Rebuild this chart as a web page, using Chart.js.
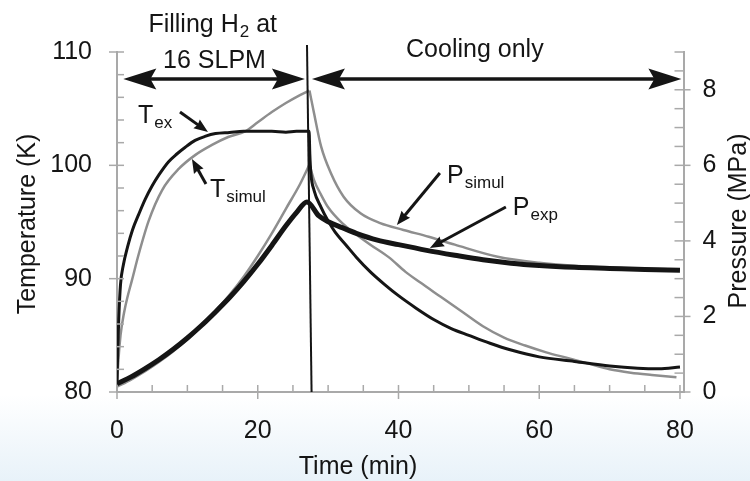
<!DOCTYPE html>
<html>
<head>
<meta charset="utf-8">
<script src="https://cdn.jsdelivr.net/npm/chart.js@4.4.1/dist/chart.umd.min.js"></script>
<style>
  html, body { margin: 0; padding: 0; background: #fff; }
  #wrap {
    width: 750px; height: 481px;
    background: linear-gradient(to bottom, #ffffff 0%, #ffffff 82%, #e8f2f9 100%);
  }
</style>
</head>
<body>
<div id="wrap"><canvas id="chart" width="750" height="481"></canvas></div>
<script>
// measured temperature (K) vs time (min)
const tExMin = [0, 0.1, 0.25, 0.5, 0.9, 1.5, 2.2, 3.1, 4, 5, 6, 7.3, 8.5, 9.7, 11.1, 12.5, 14, 16, 18, 20, 22, 24, 25.5, 27.3,
  27.4, 27.55, 28, 29, 30, 31, 32.5, 34, 36, 38, 40, 42.5, 45, 47.5, 50, 53, 56, 60, 65, 70, 74, 77, 80];
const tExK = [80.8, 83.5, 86.5, 89.5, 91.2, 92.8, 94.3, 95.7, 97.0, 98.2, 99.2, 100.3, 101.0, 101.6, 102.2, 102.55, 102.8, 102.9, 103.0, 103.0, 103.0, 102.92, 103.0, 103.0,
  101.0, 99.3, 97.8, 96.3, 95.1, 94.1, 93.0, 91.9, 90.6, 89.5, 88.5, 87.4, 86.4, 85.6, 85.0, 84.3, 83.7, 83.1, 82.7, 82.3, 82.1, 82.05, 82.2];

// simulated temperature (K)
const tSimMin = [0, 0.2, 0.5, 1, 1.5, 2.1, 3.1, 4.5, 6.4, 8.8, 11.1, 13.5, 15.8, 18.2, 20, 22, 24, 26, 27.3, 27.32,
  27.35, 28, 29, 30, 32, 34, 36, 38.6, 41, 43, 46, 49, 52, 55, 58, 61, 64, 67, 70, 73, 76, 79.5];
const tSimK = [80.5, 82.8, 85.0, 87.0, 88.4, 89.8, 92.2, 95.1, 97.8, 99.7, 100.9, 101.8, 102.5, 103.0, 103.8, 104.7, 105.5, 106.2, 106.6, null,
  100.1, 98.7, 97.4, 96.3, 94.9, 93.9, 93.0, 91.9, 90.6, 89.7, 88.4, 87.1, 85.8, 84.8, 84.1, 83.5, 83.0, 82.5, 82.0, 81.7, 81.5, 81.3];

// measured pressure (MPa)
const pExpMin = [0, 2, 4, 6, 8, 10, 12, 14, 16, 18, 20, 22, 24, 25.5, 27.0, 28.7, 30.1, 32, 34, 37, 40, 44, 48, 52, 56, 60, 65, 70, 75, 80];
const pExpMPa = [0.22, 0.4, 0.62, 0.86, 1.13, 1.43, 1.76, 2.12, 2.5, 2.92, 3.38, 3.88, 4.4, 4.75, 5.03, 4.66, 4.5, 4.35, 4.2, 4.02, 3.9, 3.75, 3.62, 3.5, 3.41, 3.35, 3.3, 3.27, 3.24, 3.22];

// simulated pressure (MPa)
const pSimMin = [0, 2, 4, 6, 8, 10, 12, 14, 16, 18, 20, 22, 24, 26, 27.3, 27.32,
  27.35, 28, 29, 30.4, 32.2, 34.6, 37.4, 40.7, 44.3, 48, 54.1, 60, 65, 70, 75, 80];
const pSimMPa = [0.14, 0.33, 0.55, 0.8, 1.08, 1.4, 1.75, 2.14, 2.57, 3.05, 3.6, 4.2, 4.85, 5.5, 6.0, null,
  7.98, 7.38, 6.5, 5.79, 5.17, 4.73, 4.47, 4.29, 4.11, 3.9, 3.58, 3.42, 3.34, 3.29, 3.26, 3.24];

// labelled ticks
const timeLabels = [0, 20, 40, 60, 80];
const tempLabels = [80, 90, 100, 110];
const presLabels = [0, 2, 4, 6, 8];

const FONT = '"Liberation Sans", Arial, Helvetica, sans-serif';
const INK = '#151515';
const GREY = '#8e8e8e';
const AXIS = '#a9a9a9';

function pts(xs, ys) {
  return xs.map((x, i) => ({ x: x, y: ys[i] }));
}

function arrowHead(ctx, x1, y1, x2, y2, len, half, notch) {
  const a = Math.atan2(y2 - y1, x2 - x1);
  const c = Math.cos(a), s = Math.sin(a);
  ctx.beginPath();
  ctx.moveTo(x2, y2);
  ctx.lineTo(x2 - len * c + half * s, y2 - len * s - half * c);
  ctx.lineTo(x2 - len * notch * c, y2 - len * notch * s);
  ctx.lineTo(x2 - len * c - half * s, y2 - len * s + half * c);
  ctx.closePath();
  ctx.fill();
}

function arrow(ctx, x1, y1, x2, y2, w, len, half, notch) {
  const a = Math.atan2(y2 - y1, x2 - x1);
  ctx.lineWidth = w;
  ctx.beginPath();
  ctx.moveTo(x1, y1);
  ctx.lineTo(x2 - Math.cos(a) * len * 0.6, y2 - Math.sin(a) * len * 0.6);
  ctx.stroke();
  arrowHead(ctx, x1, y1, x2, y2, len, half, notch);
}

// main text with a subscript
function subText(ctx, x, y, main, sub, rest, align) {
  ctx.font = '25px ' + FONT;
  const w1 = ctx.measureText(main).width;
  const w3 = rest ? ctx.measureText(rest).width : 0;
  ctx.font = '17px ' + FONT;
  const w2 = ctx.measureText(sub).width;
  const total = w1 + w2 + 1 + w3;
  const x0 = align === 'center' ? x - total / 2 : x;
  ctx.textAlign = 'left';
  ctx.textBaseline = 'alphabetic';
  ctx.font = '25px ' + FONT;
  ctx.fillText(main, x0, y);
  ctx.font = '17px ' + FONT;
  ctx.fillText(sub, x0 + w1 + 1, y + 5);
  if (rest) {
    ctx.font = '25px ' + FONT;
    ctx.fillText(rest, x0 + w1 + w2 + 1, y);
  }
}

const overlay = {
  id: 'overlay',
  afterDatasetsDraw(chart) {
    const { ctx } = chart;
    const x = chart.scales.x, y = chart.scales.yT;
    const X = v => x.getPixelForValue(v);
    const Y = v => y.getPixelForValue(v);
    ctx.save();
    ctx.fillStyle = INK;
    ctx.strokeStyle = INK;
    ctx.lineCap = 'butt';

    // end of filling
    ctx.lineWidth = 2;
    ctx.beginPath();
    ctx.moveTo(X(27.0), Y(110.62));
    ctx.lineTo(X(27.65), Y(80));
    ctx.stroke();

    // phase arrows
    const ya = Y(107.62);
    [[0.9, 26.7], [27.7, 80.2]].forEach(([a, b]) => {
      const xa = X(a), xb = X(b);
      ctx.lineWidth = 3.5;
      ctx.beginPath();
      ctx.moveTo(xa + 20, ya);
      ctx.lineTo(xb - 20, ya);
      ctx.stroke();
      arrowHead(ctx, xb, ya, xa, ya, 33, 10.5, 0.82);
      arrowHead(ctx, xa, ya, xb, ya, 33, 10.5, 0.82);
    });

    // phase texts
    subText(ctx, X(13.6), Y(111.74), 'Filling H', '2', ' at', 'center');
    ctx.font = '25px ' + FONT;
    ctx.textAlign = 'center';
    ctx.fillText('16 SLPM', X(13.85), Y(108.56));
    ctx.fillText('Cooling only', X(50.85), Y(109.53));

    // curve labels
    subText(ctx, X(2.98), Y(103.76), 'T', 'ex');
    arrow(ctx, X(8.95), Y(104.71), X(12.93), Y(102.94), 3, 14, 5.5, 0.9);
    subText(ctx, X(13.2), Y(97.23), 'T', 'simul');
    arrow(ctx, X(12.64), Y(98.35), X(10.65), Y(100.56), 3, 14, 5.5, 0.9);
    subText(ctx, X(46.9), Y(98.41), 'P', 'simul');
    arrow(ctx, X(45.88), Y(99.32), X(39.77), Y(94.74), 3, 14, 5.5, 0.9);
    subText(ctx, X(56.25), Y(95.62), 'P', 'exp');
    arrow(ctx, X(55.26), Y(96.32), X(44.46), Y(92.71), 3, 14, 5.5, 0.9);
    ctx.restore();
  },
  afterDraw(chart) {
    const { ctx, chartArea: a, scales } = chart;
    ctx.save();
    ctx.strokeStyle = AXIS;
    ctx.lineWidth = 1.5;
    const seg = (x1, y1, x2, y2) => { ctx.beginPath(); ctx.moveTo(x1, y1); ctx.lineTo(x2, y2); ctx.stroke(); };
    scales.x.ticks.forEach(t => {
      const p = scales.x.getPixelForValue(t.value);
      seg(p, a.bottom - 7, p, a.bottom + (timeLabels.includes(t.value) ? 7 : 0));
    });
    scales.yT.ticks.forEach(t => {
      const p = scales.yT.getPixelForValue(t.value);
      seg(a.left - (tempLabels.includes(t.value) ? 8 : 0), p, a.left + 7, p);
    });
    scales.yP.ticks.forEach(t => {
      const p = scales.yP.getPixelForValue(t.value);
      seg(a.right - 9, p, a.right + (presLabels.includes(t.value) ? 7 : 0), p);
    });

    // axis titles
    ctx.fillStyle = INK;
    ctx.font = '25px ' + FONT;
    ctx.textAlign = 'center';
    ctx.textBaseline = 'alphabetic';
    ctx.fillText('Time (min)', 358, 474);
    ctx.translate(35, 224);
    ctx.rotate(-Math.PI / 2);
    ctx.fillText('Temperature (K)', 0, 0);
    ctx.rotate(Math.PI / 2);
    ctx.translate(-35, -224);
    ctx.translate(746, 221);
    ctx.rotate(-Math.PI / 2);
    ctx.fillText('Pressure (MPa)', 0, 0);
    ctx.restore();
  }
};

const tickFont = { family: FONT, size: 25 };

new Chart(document.getElementById('chart').getContext('2d'), {
  type: 'line',
  data: {
    datasets: [
      { label: 'T_ex', data: pts(tExMin, tExK), yAxisID: 'yT', borderColor: INK, borderWidth: 3 },
      { label: 'P_exp', data: pts(pExpMin, pExpMPa), yAxisID: 'yP', borderColor: INK, borderWidth: 5 },
      { label: 'T_simul', data: pts(tSimMin, tSimK), yAxisID: 'yT', borderColor: GREY, borderWidth: 2.5 },
      { label: 'P_simul', data: pts(pSimMin, pSimMPa), yAxisID: 'yP', borderColor: GREY, borderWidth: 2.5 },
    ],
  },
  options: {
    responsive: false,
    devicePixelRatio: 1,
    animation: false,
    spanGaps: false,
    elements: {
      point: { radius: 0 },
      line: { cubicInterpolationMode: 'monotone', fill: false, borderJoinStyle: 'round' },
    },
    layout: { padding: { top: 52, left: 0, right: 0, bottom: 0 } },
    plugins: {
      legend: { display: false },
      tooltip: { enabled: false },
    },
    scales: {
      x: {
        type: 'linear',
        min: 0,
        max: 80.5,
        afterFit: s => { s.height = 89; },
        grid: { display: true, drawOnChartArea: false, drawTicks: false },
        border: { display: true, color: AXIS, width: 2 },
        ticks: {
          stepSize: 5,
          includeBounds: false,
          autoSkip: false,
          maxRotation: 0,
          padding: 24,
          color: INK,
          font: tickFont,
          callback: v => (timeLabels.includes(v) ? String(v) : ''),
        },
      },
      yT: {
        type: 'linear',
        position: 'left',
        min: 80,
        max: 110,
        afterFit: s => { s.width = 117; },
        grid: { display: true, drawOnChartArea: false, drawTicks: false },
        border: { display: true, color: AXIS, width: 2 },
        ticks: {
          stepSize: 2,
          autoSkip: false,
          padding: 25,
          color: INK,
          font: tickFont,
          callback: v => (tempLabels.includes(v) ? String(v) : ''),
        },
      },
      yP: {
        type: 'linear',
        position: 'right',
        min: 0,
        max: 9,
        afterFit: s => { s.width = 66.5; },
        grid: { display: true, drawOnChartArea: false, drawTicks: false },
        border: { display: true, color: AXIS, width: 2 },
        ticks: {
          stepSize: 0.5,
          autoSkip: false,
          padding: 19,
          color: INK,
          font: tickFont,
          callback: v => (presLabels.includes(v) ? String(v) : ''),
        },
      },
    },
  },
  plugins: [overlay],
});
</script>
</body>
</html>
